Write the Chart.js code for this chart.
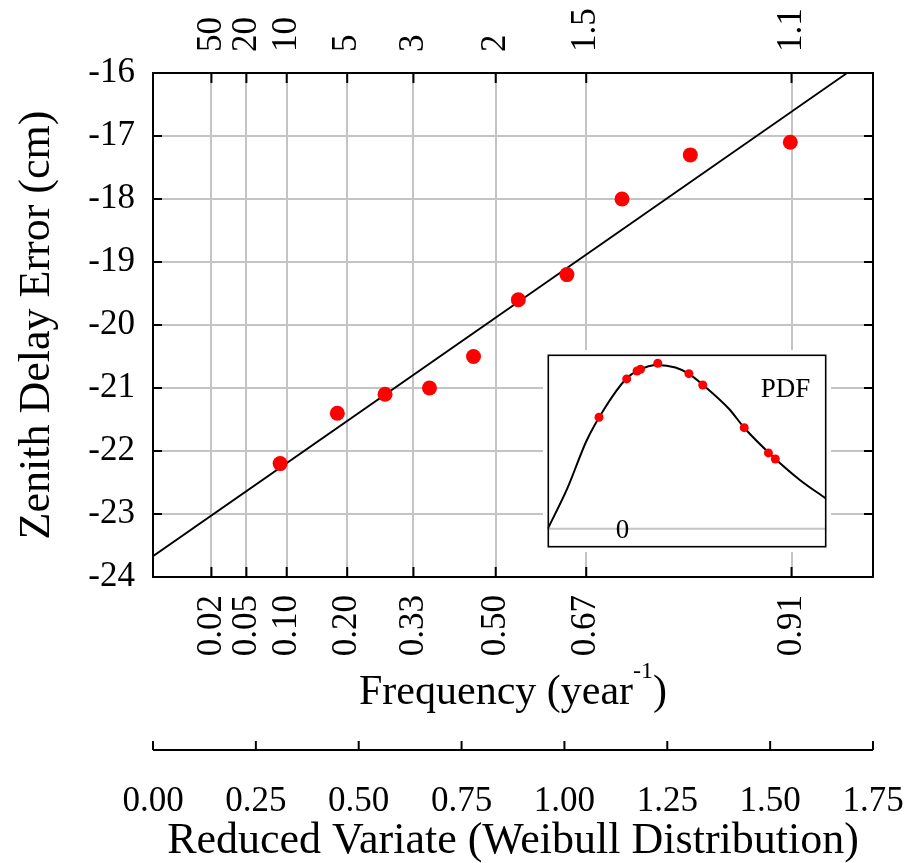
<!DOCTYPE html>
<html>
<head>
<meta charset="utf-8">
<script src="https://cdn.jsdelivr.net/npm/chart.js@4.4.1/dist/chart.umd.min.js"></script>
<style>
  html, body { margin: 0; padding: 0; background: #fff; }
  #wrap { position: relative; width: 923px; height: 863px; }
  #main { position: absolute; left: 0; top: 0; }
  #inset { position: absolute; left: 543px; top: 350px; background: #fff; }
</style>
</head>
<body>
<div id="wrap">
  <canvas id="main" width="923" height="863"></canvas>
  <canvas id="inset" width="288" height="202"></canvas>
</div>
<script>
// frequency grid, placed on the reduced-variate scale
const gridVariate = [0.142, 0.227, 0.325, 0.472, 0.633, 0.833, 1.053, 1.552];
const freqLabels = ['0.02', '0.05', '0.10', '0.20', '0.33', '0.50', '0.67', '0.91'];
const returnLabels = ['50', '20', '10', '5', '3', '2', '1.5', '1.1'];

// observed values
const variate = [0.309, 0.448, 0.564, 0.672, 0.779, 0.888, 1.006, 1.140, 1.306, 1.549];
const zenith = [-22.2, -21.4, -21.1, -21.0, -20.5, -19.6, -19.2, -18.0, -17.3, -17.1];

// fitted line
const fitVariate = [0, 1.687];
const fitZenith = [-23.67, -16.0];

// inset: pdf curve and the points on it
const pdfZenith = [-23.68, -23.12, -22.56, -22.04, -21.44, -21.06, -20.50, -19.99, -19.61, -19.19, -18.45, -17.98, -17.23, -16.39, -15.65];
const pdfValue = [0.000, 0.046, 0.101, 0.138, 0.171, 0.182, 0.188, 0.185, 0.178, 0.165, 0.138, 0.115, 0.085, 0.056, 0.035];
const pdfAtPoints = [0.128, 0.172, 0.181, 0.183, 0.190, 0.178, 0.165, 0.116, 0.087, 0.080];
const zeroLineX = [-23.69, -15.62];

const FONT = "'Liberation Serif', 'Times New Roman', serif";
Chart.defaults.font.family = FONT;
Chart.defaults.color = '#000';
const GRID = '#c4c4c4';
const RED = '#ff0000';

const setGridTicks = s => { s.ticks = gridVariate.map(v => ({ value: v })); };
// fix an axis' size and drop the label overflow padding
const fixSize = (w, h) => s => {
  if (w != null) s.width = w;
  if (h != null) s.height = h;
  s.paddingLeft = s.paddingRight = s.paddingTop = s.paddingBottom = 0;
};

const mainDecor = {
  id: 'mainDecor',
  afterDraw(chart) {
    const { ctx, chartArea: a, scales } = chart;
    ctx.save();
    ctx.strokeStyle = '#000';
    ctx.lineWidth = 2;
    ctx.beginPath();
    gridVariate.forEach(v => {
      const x = scales.x.getPixelForValue(v);
      ctx.moveTo(x, a.top); ctx.lineTo(x, a.top + 10);
      ctx.moveTo(x, a.bottom); ctx.lineTo(x, a.bottom - 10);
    });
    scales.y.ticks.forEach(t => {
      const y = scales.y.getPixelForValue(t.value);
      ctx.moveTo(a.left, y); ctx.lineTo(a.left + 9, y);
      ctx.moveTo(a.right, y); ctx.lineTo(a.right - 9, y);
    });
    ctx.stroke();
    ctx.strokeRect(a.left, a.top, a.right - a.left, a.bottom - a.top);

    // reduced variate axis line, ticks pointing up
    const r = scales.xr;
    const ly = r.top + 25;
    ctx.beginPath();
    ctx.moveTo(r.getPixelForValue(0), ly);
    ctx.lineTo(r.getPixelForValue(1.75), ly);
    r.ticks.forEach(t => {
      const x = r.getPixelForValue(t.value);
      ctx.moveTo(x, ly); ctx.lineTo(x, ly - 9);
    });
    ctx.stroke();

    // frequency title with superscript
    const base = scales.x.top + 127;
    const main = 'Frequency (year', sup = '-1', tail = ')';
    ctx.fillStyle = '#000';
    ctx.textBaseline = 'alphabetic';
    ctx.textAlign = 'left';
    ctx.font = `42px ${FONT}`;
    const w1 = ctx.measureText(main).width, w3 = ctx.measureText(tail).width;
    ctx.font = `24px ${FONT}`;
    const w2 = ctx.measureText(sup).width;
    const x0 = (a.left + a.right) / 2 - (w1 + w2 + w3) / 2;
    ctx.font = `42px ${FONT}`;
    ctx.fillText(main, x0, base);
    ctx.font = `24px ${FONT}`;
    ctx.fillText(sup, x0 + w1, base - 26);
    ctx.font = `42px ${FONT}`;
    ctx.fillText(tail, x0 + w1 + w2, base);
    ctx.restore();
  }
};

new Chart(document.getElementById('main'), {
  type: 'scatter',
  data: {
    datasets: [
      { data: variate.map((x, i) => ({ x, y: zenith[i] })), backgroundColor: RED, borderWidth: 0, pointRadius: 7.5, pointHoverRadius: 7.5 },
      { data: fitVariate.map((x, i) => ({ x, y: fitZenith[i] })), showLine: true, borderColor: '#000', borderWidth: 1.8, pointRadius: 0, fill: false }
    ]
  },
  options: {
    responsive: false, animation: false, events: [],
    layout: { padding: { left: 0, right: 50, top: 0, bottom: 0 } },
    plugins: { legend: { display: false }, tooltip: { enabled: false } },
    scales: {
      x: {
        type: 'linear', position: 'bottom', weight: 0, min: 0, max: 1.75,
        afterBuildTicks: setGridTicks, afterFit: fixSize(null, 148),
        grid: { color: GRID, lineWidth: 2, drawTicks: false }, border: { display: false },
        ticks: { autoSkip: false, minRotation: 90, maxRotation: 90, padding: 18, font: { size: 35 }, callback: (v, i) => freqLabels[i] }
      },
      xt: {
        type: 'linear', position: 'top', min: 0, max: 1.75,
        afterBuildTicks: setGridTicks, afterFit: fixSize(null, 73),
        grid: { display: false, drawTicks: false }, border: { display: false },
        ticks: { autoSkip: false, minRotation: 90, maxRotation: 90, padding: 21, labelOffset: 42, font: { size: 35 }, callback: (v, i) => returnLabels[i] }
      },
      xr: {
        type: 'linear', position: 'bottom', weight: 1, min: 0, max: 1.75,
        afterFit: fixSize(null, 138),
        grid: { display: false, drawTicks: false }, border: { display: false },
        ticks: { stepSize: 0.25, maxRotation: 0, padding: 56, font: { size: 35 }, callback: v => v.toFixed(2) },
        title: { display: true, text: 'Reduced Variate (Weibull Distribution)', font: { size: 44, lineHeight: 1.0 }, padding: { top: 0, bottom: 0 } }
      },
      y: {
        min: -24, max: -16, afterFit: fixSize(153, null),
        grid: { color: GRID, lineWidth: 2, drawTicks: false }, border: { display: false },
        ticks: { stepSize: 1, padding: 18, font: { size: 35 } },
        title: { display: true, text: 'Zenith Delay Error (cm)', font: { size: 44 }, padding: { top: 11, bottom: 0 } }
      }
    }
  },
  plugins: [mainDecor]
});

const insetDecor = {
  id: 'insetDecor',
  afterDraw(chart) {
    const { ctx, chartArea: a, scales } = chart;
    ctx.save();
    ctx.fillStyle = '#000';
    ctx.font = `27px ${FONT}`;
    ctx.textAlign = 'center';
    ctx.textBaseline = 'middle';
    ctx.fillText('0', a.left + 75, scales.y.getPixelForValue(0) + 2);
    ctx.fillText('PDF', a.left + 238, a.top + 35);
    ctx.lineWidth = 1.6;
    ctx.strokeStyle = '#000';
    ctx.strokeRect(a.left + 0.8, a.top + 0.8, a.right - a.left - 1.6, a.bottom - a.top - 1.6);
    ctx.restore();
  }
};

new Chart(document.getElementById('inset'), {
  type: 'scatter',
  data: {
    datasets: [
      { data: zenith.map((x, i) => ({ x, y: pdfAtPoints[i] })), backgroundColor: RED, borderWidth: 0, pointRadius: 4.5, pointHoverRadius: 4.5 },
      { data: pdfZenith.map((x, i) => ({ x, y: pdfValue[i] })), showLine: true, borderColor: '#000', borderWidth: 2, pointRadius: 0, cubicInterpolationMode: 'monotone' },
      { data: zeroLineX.map(x => ({ x, y: 0 })), showLine: true, borderColor: GRID, borderWidth: 2, pointRadius: 0 }
    ]
  },
  options: {
    responsive: false, animation: false, events: [],
    layout: { padding: 0 },
    plugins: { legend: { display: false }, tooltip: { enabled: false } },
    scales: {
      x: { type: 'linear', display: false, min: -23.69, max: -15.62 },
      y: { display: false, min: -0.0216, max: 0.2 }
    }
  },
  plugins: [insetDecor]
});
</script>
</body>
</html>
